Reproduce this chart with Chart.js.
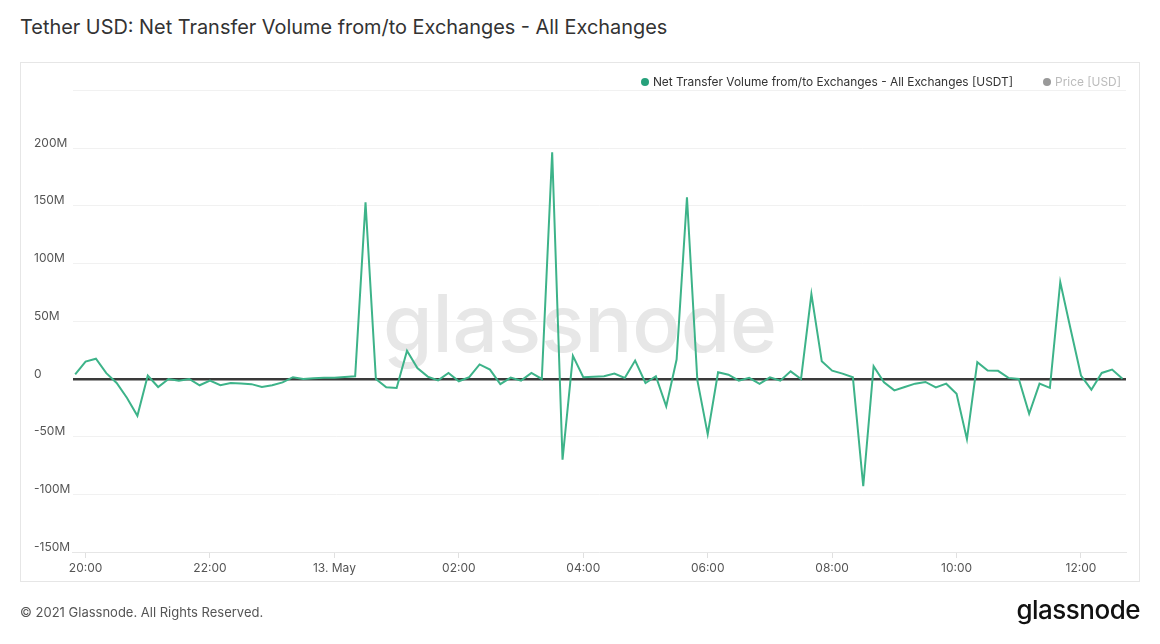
<!DOCTYPE html>
<html>
<head>
<meta charset="utf-8">
<script src="https://cdn.jsdelivr.net/npm/chart.js@4.4.0/dist/chart.umd.min.js"></script>
<style>
  html, body { margin: 0; padding: 0; background: #fff; }
  body { width: 1160px; height: 644px; position: relative; overflow: hidden; font-family: Inter, 'Noto Sans', sans-serif; }
  #title { position: absolute; left: 20px; top: 15px; font-size: 19.9px; color: #333; white-space: nowrap; }
  #box { position: absolute; left: 20px; top: 62px; width: 1118px; height: 518px; border: 1px solid #e6e6e6; }
  #wrap { position: absolute; left: 0; top: 0; width: 1160px; height: 644px; }
  #legend { position: absolute; top: 74px; right: 39px; display: flex; align-items: center; font-size: 11.9px; color: #333; white-space: nowrap; z-index: 2; }
  #legend .dot { width: 8px; height: 8px; border-radius: 50%; margin-right: 4px; display: inline-block; }
  #copy { position: absolute; left: 20px; top: 604px; font-size: 13px; color: #555; }
  #logo { position: absolute; right: 20px; top: 594px; font-size: 26px; font-weight: 500; color: #111; letter-spacing: -0.5px; }
</style>
</head>
<body>
<div id="title">Tether USD: Net Transfer Volume from/to Exchanges - All Exchanges</div>
<div id="box"></div>
<div id="legend">
  <span class="dot" style="background:#26a17b"></span><span>Net Transfer Volume from/to Exchanges - All Exchanges [USDT]</span>
  <span class="dot" style="background:#999;margin-left:30px"></span><span style="color:#bbb">Price [USD]</span>
</div>
<div id="wrap"><canvas id="chart"></canvas></div>
<div id="copy">© 2021 Glassnode. All Rights Reserved.</div>
<div id="logo">glassnode</div>
<script>
// 10 minute points, 12 May 19:50 -> 13 May 12:40
const times = [
	'19:50',
	'20:00', '20:10', '20:20', '20:30', '20:40', '20:50',
	'21:00', '21:10', '21:20', '21:30', '21:40', '21:50',
	'22:00', '22:10', '22:20', '22:30', '22:40', '22:50',
	'23:00', '23:10', '23:20', '23:30', '23:40', '23:50',
	'00:00', '00:10', '00:20', '00:30', '00:40', '00:50',
	'01:00', '01:10', '01:20', '01:30', '01:40', '01:50',
	'02:00', '02:10', '02:20', '02:30', '02:40', '02:50',
	'03:00', '03:10', '03:20', '03:30', '03:40', '03:50',
	'04:00', '04:10', '04:20', '04:30', '04:40', '04:50',
	'05:00', '05:10', '05:20', '05:30', '05:40', '05:50',
	'06:00', '06:10', '06:20', '06:30', '06:40', '06:50',
	'07:00', '07:10', '07:20', '07:30', '07:40', '07:50',
	'08:00', '08:10', '08:20', '08:30', '08:40', '08:50',
	'09:00', '09:10', '09:20', '09:30', '09:40', '09:50',
	'10:00', '10:10', '10:20', '10:30', '10:40', '10:50',
	'11:00', '11:10', '11:20', '11:30', '11:40', '11:50',
	'12:00', '12:10', '12:20', '12:30', '12:40',
]

// net transfer volume, millions of USDT
const netFlow = [
	4,
	15, 17.5, 5, -3.5, -16.5, -32,
	3, -7, 0, -1.5, 0, -5.5,
	-1.5, -5.5, -3.5, -4, -4.5, -7,
	-5.5, -3, 1.5, 0, 0.5, 1,
	1, 1.7, 2.3, 153, 0, -7.3,
	-7.8, 24.5, 9.5, 2, -1.2, 5.2,
	-2, 1.5, 12.6, 8.1, -4.5, 1.2,
	-1.5, 5.2, 0, 196.5, -70, 20,
	1.5, 2, 2.3, 4.6, 0.9, 15.9,
	-3.5, 2.3, -23.8, 16.8, 157.5, -1,
	-47.8, 5.8, 3.7, -1.5, 0.9, -4.3,
	1.4, -1.5, 6.6, 0, 73.5, 15.3,
	7.2, 4.6, 1.4, -93, 11, -2.9,
	-9.9, -7, -4.1, -2.6, -7.3, -4.1,
	-12.8, -52.2, 14.5, 7.2, 7, 0.9,
	0, -30.2, -4.1, -7.8, 84, 43,
	2.9, -9.3, 5.2, 8.1, 0.2,
]

const tickTimes = ['20:00', '22:00', '00:00', '02:00', '04:00', '06:00', '08:00', '10:00', '12:00']
const tickText = ['20:00', '22:00', '13. May', '02:00', '04:00', '06:00', '08:00', '10:00', '12:00']

// minutes since 12 May 00:00
const toMin = (t) => {
	const [h, m] = t.split(':').map(Number)
	return (h < 19 ? 1440 : 0) + h * 60 + m
}

const points = times.map((t, i) => ({ x: toMin(t), y: netFlow[i] }))
const tickValues = tickTimes.map(toMin)

const watermark = {
	id: 'watermark',
	beforeDatasetsDraw(chart) {
		const ctx = chart.ctx
		ctx.save()
		ctx.font = '500 80px Inter, sans-serif'
		ctx.fillStyle = '#e7e7e7'
		ctx.textAlign = 'center'
		ctx.fillText('glassnode', 580, 352)
		ctx.restore()
	},
}

const noPad = (scale) => {
	scale.paddingTop = 0
	scale.paddingBottom = 0
	scale.paddingLeft = 0
	scale.paddingRight = 0
}

new Chart(document.getElementById('chart'), {
	type: 'line',
	data: {
		datasets: [
			{
				label: 'Net Transfer Volume from/to Exchanges - All Exchanges [USDT]',
				data: points,
				borderColor: '#3db389',
				borderWidth: 2,
				pointRadius: 0,
				tension: 0,
				fill: false,
			},
		],
	},
	options: {
		responsive: true,
		maintainAspectRatio: false,
		animation: false,
		layout: { padding: { left: 34, right: 34, top: 90.5, bottom: 66 } },
		plugins: { legend: { display: false }, tooltip: { enabled: false } },
		scales: {
			x: {
				type: 'linear',
				min: 1187.6,
				max: 2203.4,
				afterBuildTicks: (scale) => {
					scale.ticks = tickValues.map((v) => ({ value: v }))
				},
				afterFit: (scale) => {
					scale.height = 26
					noPad(scale)
				},
				ticks: {
					autoSkip: false,
					maxRotation: 0,
					padding: 3,
					color: '#555',
					font: { family: 'Inter', size: 12 },
					callback: (v) => tickText[tickValues.indexOf(v)],
				},
				grid: { drawOnChartArea: false, drawTicks: true, tickLength: 6, color: '#e0e0e0' },
				border: { display: true, color: '#e6e6e6' },
			},
			y: {
				min: -150,
				max: 250,
				afterFit: (scale) => {
					scale.width = 38.7
					noPad(scale)
				},
				ticks: {
					stepSize: 50,
					crossAlign: 'far',
					labelOffset: -5,
					color: '#555',
					font: { family: 'Inter', size: 12 },
					callback: (v) => (v === 250 ? '' : v === 0 ? '0' : v + 'M'),
				},
				grid: {
					drawTicks: false,
					color: (c) => (c.tick && c.tick.value === 0 ? '#3a3a3a' : '#f1f1f1'),
					lineWidth: (c) => (c.tick && c.tick.value === 0 ? 2.5 : 1),
				},
				border: { display: false },
			},
		},
	},
	plugins: [watermark],
})
</script>
</body>
</html>
